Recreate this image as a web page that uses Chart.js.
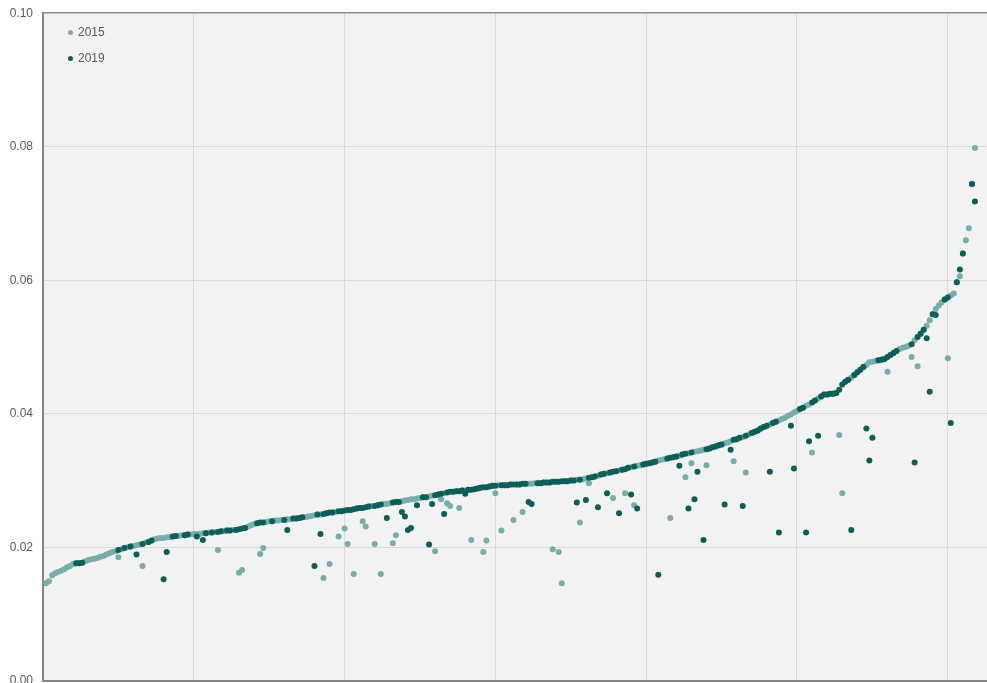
<!DOCTYPE html>
<html lang="en">

<head>
    <meta charset="UTF-8">
    <title>2015 vs 2019</title>
    <script src="https://cdn.jsdelivr.net/npm/chart.js"></script>

    <style>
        body {
            margin: 0;
            background: #fff;
            font-family: "Liberation Sans", Arial, sans-serif;
        }

        #wrap {
            position: relative;
            width: 987px;
            height: 683px;
            overflow: hidden;
        }

        #myChart {
            position: absolute;
            left: 0;
            top: -4px;
        }

        .item {
            position: absolute;
            left: 78px;
            height: 15px;
            line-height: 15px;
            font-size: 12px;
            color: #595959;
        }

        .dot {
            position: absolute;
            left: -10px;
            top: 5px;
            width: 5px;
            height: 5px;
            border-radius: 50%;
        }
    </style>
</head>

<body>
    <div id="wrap">
        <canvas id="myChart" width="987" height="702"></canvas>
        <div class="item" style="top:25px"><span class="dot" style="background:#76aeaa"></span>2015</div>
        <div class="item" style="top:51px"><span class="dot" style="background:#0a5f59"></span>2019</div>
    </div>

    <script>
        // values per rank (x = 1..309)
        const y2015 = [
            0.0146, 0.0149, 0.0158, 0.0161, 0.0163, 0.0165, 0.0167, 0.0170, 0.0172, 0.0175,
            0.0176, 0.0176, 0.0177, 0.0179, 0.0181, 0.0182, 0.0183, 0.0184, 0.0186, 0.0187,
            0.0189, 0.0191, 0.0193, 0.0194, 0.0185, 0.0197, 0.0199, 0.0200, 0.0201, 0.0202,
            0.0203, 0.0204, 0.0172, 0.0207, 0.0208, 0.0210, 0.0212, 0.0213, 0.0214, 0.0214,
            0.0215, 0.0215, 0.0216, 0.0217, 0.0217, 0.0218, 0.0218, 0.0219, 0.0219, 0.0220,
            0.0220, 0.0220, 0.0221, 0.0221, 0.0222, 0.0222, 0.0223, 0.0196, 0.0224, 0.0224,
            0.0225, 0.0225, 0.0226, 0.0226, 0.0162, 0.0166, 0.0229, 0.0231, 0.0233, 0.0235,
            0.0236, 0.0190, 0.0199, 0.0238, 0.0239, 0.0239, 0.0240, 0.0240, 0.0241, 0.0241,
            0.0242, 0.0242, 0.0243, 0.0243, 0.0244, 0.0245, 0.0245, 0.0246, 0.0247, 0.0248,
            0.0249, 0.0249, 0.0154, 0.0251, 0.0175, 0.0252, 0.0253, 0.0216, 0.0254, 0.0228,
            0.0205, 0.0256, 0.0160, 0.0258, 0.0259, 0.0239, 0.0231, 0.0261, 0.0262, 0.0205,
            0.0263, 0.0160, 0.0265, 0.0265, 0.0266, 0.0206, 0.0218, 0.0268, 0.0269, 0.0270,
            0.0271, 0.0272, 0.0272, 0.0273, 0.0274, 0.0275, 0.0275, 0.0276, 0.0277, 0.0194,
            0.0279, 0.0272, 0.0281, 0.0266, 0.0262, 0.0283, 0.0284, 0.0259, 0.0285, 0.0285,
            0.0286, 0.0211, 0.0287, 0.0288, 0.0289, 0.0193, 0.0210, 0.0291, 0.0292, 0.0281,
            0.0293, 0.0225, 0.0293, 0.0293, 0.0294, 0.0241, 0.0294, 0.0294, 0.0253, 0.0295,
            0.0295, 0.0295, 0.0296, 0.0296, 0.0296, 0.0297, 0.0297, 0.0297, 0.0197, 0.0298,
            0.0193, 0.0146, 0.0299, 0.0299, 0.0300, 0.0300, 0.0301, 0.0237, 0.0302, 0.0303,
            0.0296, 0.0305, 0.0306, 0.0307, 0.0309, 0.0310, 0.0311, 0.0312, 0.0274, 0.0314,
            0.0315, 0.0316, 0.0281, 0.0319, 0.0320, 0.0263, 0.0322, 0.0323, 0.0324, 0.0325,
            0.0326, 0.0327, 0.0328, 0.0330, 0.0331, 0.0332, 0.0333, 0.0244, 0.0335, 0.0336,
            0.0337, 0.0339, 0.0305, 0.0341, 0.0326, 0.0343, 0.0344, 0.0345, 0.0346, 0.0323,
            0.0348, 0.0350, 0.0351, 0.0353, 0.0354, 0.0356, 0.0357, 0.0359, 0.0329, 0.0362,
            0.0364, 0.0365, 0.0312, 0.0369, 0.0371, 0.0373, 0.0375, 0.0378, 0.0380, 0.0382,
            0.0384, 0.0386, 0.0388, 0.0390, 0.0392, 0.0394, 0.0397, 0.0399, 0.0402, 0.0404,
            0.0407, 0.0409, 0.0412, 0.0414, 0.0342, 0.0420, 0.0423, 0.0426, 0.0429, 0.0429,
            0.0430, 0.0430, 0.0431, 0.0368, 0.0281, 0.0448, 0.0451, 0.0454, 0.0458, 0.0462,
            0.0466, 0.0470, 0.0473, 0.0477, 0.0478, 0.0479, 0.0480, 0.0481, 0.0482, 0.0463,
            0.0488, 0.0491, 0.0494, 0.0497, 0.0499, 0.0500, 0.0502, 0.0485, 0.0510, 0.0471,
            0.0520, 0.0526, 0.0532, 0.0540, 0.0549, 0.0557, 0.0562, 0.0567, 0.0571, 0.0483,
            0.0577, 0.0580, 0.0597, 0.0606, 0.0640, 0.0660, 0.0678, 0.0744, 0.0798
        ];

        const y2019 = [
            null, null, null, null, null, null, null, null, null, null,
            0.0176, 0.0176, 0.0177, null, null, null, null, null, null, null,
            null, null, null, null, 0.0196, null, 0.0199, null, 0.0201, null,
            0.0189, null, 0.0205, null, 0.0208, 0.0210, null, null, null, 0.0152,
            0.0193, null, 0.0216, 0.0217, null, null, 0.0218, 0.0219, null, null,
            0.0216, null, 0.0211, 0.0221, null, 0.0222, null, 0.0223, 0.0224, null,
            0.0225, 0.0225, null, 0.0226, 0.0227, 0.0228, 0.0229, null, null, null,
            0.0236, 0.0237, 0.0237, null, null, 0.0239, null, null, null, 0.0241,
            0.0226, null, 0.0243, 0.0243, 0.0244, 0.0245, null, null, null, 0.0172,
            0.0249, 0.0220, 0.0250, 0.0251, 0.0252, 0.0252, null, 0.0254, 0.0254, 0.0255,
            0.0256, 0.0256, 0.0257, 0.0258, 0.0259, 0.0259, 0.0260, 0.0261, null, 0.0262,
            0.0263, 0.0264, null, 0.0244, null, 0.0267, 0.0268, 0.0268, 0.0253, 0.0246,
            0.0226, 0.0229, null, 0.0263, null, 0.0275, 0.0275, 0.0204, 0.0265, 0.0278,
            0.0279, 0.0280, 0.0250, 0.0282, 0.0283, 0.0283, 0.0284, 0.0284, 0.0285, 0.0280,
            0.0286, 0.0286, 0.0287, 0.0288, 0.0289, 0.0290, 0.0290, 0.0291, 0.0292, 0.0292,
            null, 0.0293, 0.0293, 0.0293, 0.0294, 0.0294, 0.0294, 0.0294, 0.0295, 0.0295,
            0.0268, 0.0265, null, 0.0296, 0.0296, 0.0297, 0.0297, 0.0297, 0.0298, 0.0298,
            0.0298, 0.0299, 0.0299, 0.0299, 0.0300, 0.0300, 0.0267, 0.0301, null, 0.0271,
            0.0304, 0.0305, 0.0306, 0.0260, 0.0309, 0.0310, 0.0281, 0.0312, 0.0313, 0.0314,
            0.0251, 0.0316, 0.0317, 0.0319, 0.0279, 0.0321, 0.0258, null, 0.0324, 0.0325,
            0.0326, 0.0327, 0.0328, 0.0159, null, null, 0.0333, 0.0334, 0.0335, 0.0336,
            0.0322, 0.0339, 0.0340, 0.0258, 0.0342, 0.0272, 0.0313, null, 0.0211, 0.0347,
            0.0348, 0.0350, 0.0351, 0.0353, 0.0354, 0.0264, null, 0.0346, 0.0361, 0.0362,
            0.0364, 0.0262, 0.0367, null, 0.0371, 0.0373, 0.0375, 0.0378, 0.0380, 0.0382,
            0.0313, 0.0386, 0.0388, 0.0222, null, null, null, 0.0382, 0.0318, null,
            0.0407, 0.0409, 0.0222, 0.0359, 0.0417, 0.0420, 0.0367, 0.0426, 0.0429, 0.0429,
            0.0430, 0.0430, 0.0431, 0.0436, 0.0444, 0.0448, 0.0451, 0.0226, 0.0458, 0.0462,
            0.0466, 0.0470, 0.0378, 0.0330, 0.0364, null, 0.0480, 0.0481, 0.0482, 0.0485,
            0.0488, 0.0491, 0.0494, null, null, null, null, 0.0504, 0.0327, 0.0515,
            0.0520, 0.0526, 0.0513, 0.0433, 0.0549, 0.0548, null, null, 0.0571, 0.0574,
            0.0386, null, 0.0597, 0.0616, 0.0640, null, null, 0.0744, 0.0718
        ];

        const yTicks = [0, 0.02, 0.04, 0.06, 0.08, 0.10];

        const light = '#76aeaa';
        const dark = '#0a5f59';

        const toPoints = arr => arr.map((v, i) => ({ x: i + 1, y: v }));

        const plotBg = {
            id: 'plotBg',
            beforeDraw(chart) {
                const { ctx, chartArea: a } = chart;
                ctx.save();
                ctx.fillStyle = '#f2f2f2';
                ctx.fillRect(a.left, a.top, a.right - a.left, a.bottom - a.top);
                ctx.restore();
            }
        };

        const ctx = document.getElementById('myChart').getContext('2d');

        const chart = new Chart(ctx, {
            type: 'scatter',
            data: {
                datasets: [{
                    label: '2015',
                    data: toPoints(y2015),
                    backgroundColor: light,
                    borderWidth: 0,
                    pointRadius: 3,
                    order: 1
                }, {
                    label: '2019',
                    data: toPoints(y2019),
                    backgroundColor: dark,
                    borderWidth: 0,
                    pointRadius: 3,
                    order: 0
                }]
            },
            options: {
                responsive: false,
                animation: false,
                events: [],
                layout: {
                    autoPadding: false,
                    padding: { top: 9, right: 0, bottom: 0, left: 0 }
                },
                plugins: {
                    legend: { display: false },
                    tooltip: { enabled: false }
                },
                scales: {
                    x: {
                        type: 'linear',
                        min: 0,
                        max: 313,
                        afterFit: axis => {
                            axis.height = 0;
                        },
                        ticks: {
                            display: false,
                            stepSize: 50,
                            includeBounds: false
                        },
                        grid: {
                            color: c => c.tick && c.tick.value === 0 ? 'rgba(0,0,0,0)' : '#d9d9d9',
                            drawTicks: false
                        },
                        border: { display: true, color: '#858585', width: 2 }
                    },
                    y: {
                        min: 0,
                        max: 0.1,
                        afterBuildTicks: axis => {
                            axis.ticks = yTicks.map(v => ({ value: v }));
                        },
                        afterFit: axis => {
                            axis.width = 43;
                        },
                        ticks: {
                            padding: 10,
                            color: '#595959',
                            font: { family: 'Liberation Sans', size: 12 },
                            callback: v => v.toFixed(2)
                        },
                        grid: {
                            color: c => c.tick && c.tick.value >= 0.099 ? '#8c8c8c' : '#d9d9d9',
                            lineWidth: c => c.tick && c.tick.value >= 0.099 ? 1.5 : 1,
                            drawTicks: false
                        },
                        border: { display: true, color: '#858585', width: 2 }
                    }
                }
            },
            plugins: [plotBg]
        });
    </script>

</body>

</html>
